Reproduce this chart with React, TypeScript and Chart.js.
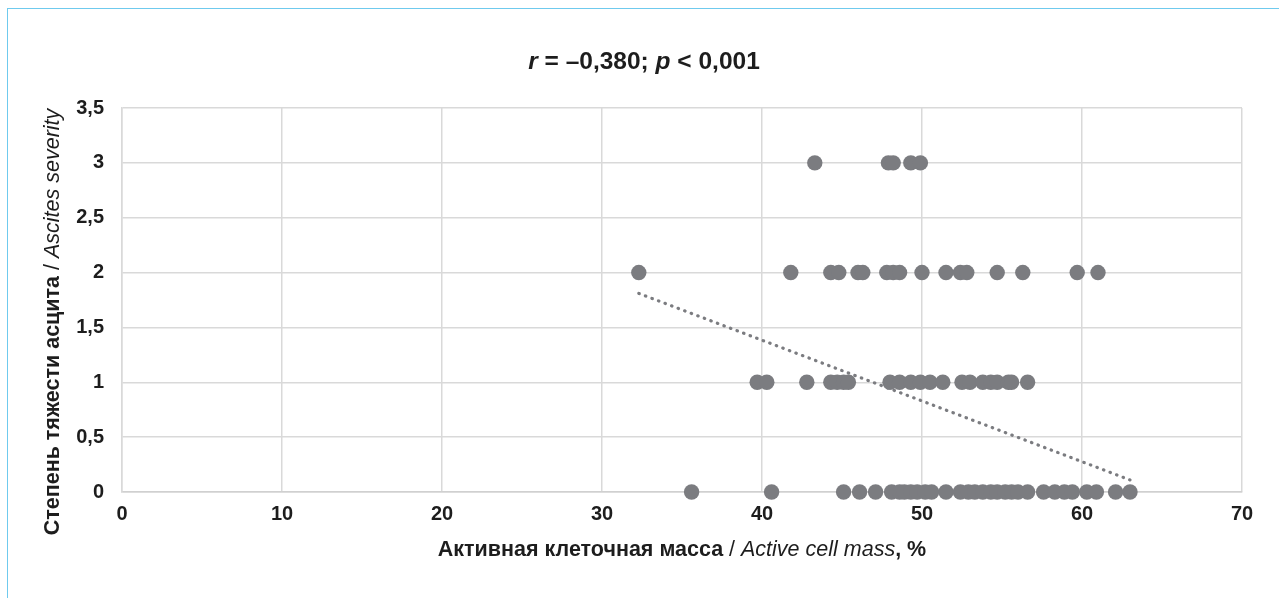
import React, { useEffect, useRef } from "react";
import { Chart, registerables } from "chart.js";

Chart.register(...registerables);

// Active cell mass (%) per ascites severity grade
const severity3 = [43.3, 47.9, 48.2, 49.3, 49.9];
const severity2 = [32.3, 41.8, 44.3, 44.8, 46.0, 46.3, 47.8, 48.2, 48.6, 50.0, 51.5, 52.4, 52.8, 54.7, 56.3, 59.7, 61.0];
const severity1 = [39.7, 40.3, 42.8, 44.3, 44.7, 45.1, 45.4, 48.0, 48.6, 49.3, 49.9, 50.5, 51.3, 52.5, 53.0, 53.8, 54.3, 54.7, 55.4, 55.6, 56.6];
const severity0 = [35.6, 40.6, 45.1, 46.1, 47.1, 48.1, 48.6, 48.9, 49.3, 49.7, 50.2, 50.6, 51.5, 52.4, 52.9, 53.3, 53.8, 54.3, 54.7, 55.2, 55.6, 56.0, 56.6, 57.6, 58.3, 58.9, 59.4, 60.3, 60.9, 62.1, 63.0];
const severityLevels = [3, 2, 1, 0];

// Linear trend endpoints
const trendX = [32.3, 63.0];
const trendY = [1.81, 0.11];

// Axis tick values
const xTicks = [0, 10, 20, 30, 40, 50, 60, 70];
const yTicks = [0, 0.5, 1, 1.5, 2, 2.5, 3, 3.5];

const FONT = "'Liberation Sans', Arial, sans-serif";
const INK = "#1d1d1d";
const DOT = "#7b7c80";

type Run = { t: string; bold: boolean; italic: boolean };

function drawRuns(ctx: CanvasRenderingContext2D, runs: Run[], size: number, cx: number, cy: number, angle: number) {
  const fontFor = (r: Run) => `${r.italic ? "italic " : ""}${r.bold ? "bold " : ""}${size}px ${FONT}`;
  let total = 0;
  const widths = runs.map((r) => {
    ctx.font = fontFor(r);
    const w = ctx.measureText(r.t).width;
    total += w;
    return w;
  });
  ctx.save();
  ctx.translate(cx, cy);
  ctx.rotate(angle);
  ctx.fillStyle = INK;
  ctx.textBaseline = "middle";
  ctx.textAlign = "left";
  let x = -total / 2;
  runs.forEach((r, i) => {
    ctx.font = fontFor(r);
    ctx.fillText(r.t, x, 0);
    x += widths[i];
  });
  ctx.restore();
}

const titleRuns: Run[] = [
  { t: "r", bold: true, italic: true },
  { t: " = –0,380; ", bold: true, italic: false },
  { t: "p", bold: true, italic: true },
  { t: " < 0,001", bold: true, italic: false },
];
const xTitleRuns: Run[] = [
  { t: "Активная клеточная масса ", bold: true, italic: false },
  { t: "/ ", bold: false, italic: false },
  { t: "Active cell mass", bold: false, italic: true },
  { t: ", %", bold: true, italic: false },
];
const yTitleRuns: Run[] = [
  { t: "Степень тяжести асцита ", bold: true, italic: false },
  { t: "/ ", bold: false, italic: false },
  { t: "Ascites severity", bold: false, italic: true },
];

const textPlugin = {
  id: "mixedTexts",
  afterDraw(chart: any) {
    const ctx = chart.ctx as CanvasRenderingContext2D;
    const area = chart.chartArea;
    const midX = (area.left + area.right) / 2;
    drawRuns(ctx, titleRuns, 24.5, 644, 62, 0);
    drawRuns(ctx, xTitleRuns, 21.5, midX, 550, 0);
    drawRuns(ctx, yTitleRuns, 21.5, 53, 322, -Math.PI / 2);
  },
};

export default function App() {
  const canvasRef = useRef<HTMLCanvasElement | null>(null);

  useEffect(() => {
    if (!canvasRef.current) return;
    const points = [severity3, severity2, severity1, severity0].flatMap((xs, i) =>
      xs.map((x) => ({ x, y: severityLevels[i] }))
    );
    const trend = trendX.map((x, i) => ({ x, y: trendY[i] }));

    const chart = new Chart(canvasRef.current, {
      type: "scatter",
      data: {
        datasets: [
          {
            label: "trend",
            type: "line",
            data: trend,
            borderColor: DOT,
            borderWidth: 3.2,
            borderDash: [0.5, 6.5],
            borderCapStyle: "round",
            pointRadius: 0,
            fill: false,
            clip: false,
            order: 1,
          } as any,
          {
            label: "points",
            data: points,
            backgroundColor: DOT,
            borderColor: DOT,
            borderWidth: 0,
            pointRadius: 7.7,
            pointHoverRadius: 7.7,
            clip: false,
            order: 2,
          } as any,
        ],
      },
      options: {
        animation: false,
        responsive: false,
        maintainAspectRatio: false,
        layout: { padding: { left: 0, top: 108, right: 37, bottom: 0 } },
        plugins: {
          legend: { display: false },
          title: { display: false },
          tooltip: { enabled: false },
        },
        scales: {
          x: {
            type: "linear",
            min: 0,
            max: 70,
            afterBuildTicks: (scale: any) => {
              scale.ticks = xTicks.map((v) => ({ value: v }));
            },
            afterFit: (scale: any) => {
              scale.height = 106;
            },
            grid: { color: "#d9d9d9", lineWidth: 1.5, drawTicks: false },
            border: { display: true, color: "#d0d0d0", width: 1.5 },
            ticks: {
              padding: 10,
              color: INK,
              font: { family: FONT, size: 20, weight: "bold" },
              callback: (v: any) => String(v),
            },
          },
          y: {
            type: "linear",
            min: 0,
            max: 3.5,
            afterBuildTicks: (scale: any) => {
              scale.ticks = yTicks.map((v) => ({ value: v }));
            },
            afterFit: (scale: any) => {
              scale.width = 122;
            },
            grid: { color: "#d9d9d9", lineWidth: 1.5, drawTicks: false },
            border: { display: true, color: "#d9d9d9", width: 1.5 },
            ticks: {
              padding: 18,
              color: INK,
              font: { family: FONT, size: 20, weight: "bold" },
              callback: (v: any) => String(v).replace(".", ","),
            },
          },
        },
      },
      plugins: [textPlugin],
    });
    return () => chart.destroy();
  }, []);

  return (
    <div style={{ position: "fixed", left: 0, top: 0, width: 1279, height: 598, background: "#ffffff", overflow: "hidden" }}>
      <div
        style={{
          position: "absolute",
          left: 7,
          top: 8,
          right: 0,
          bottom: 0,
          borderTop: "1.5px solid #6fcaee",
          borderLeft: "1.5px solid #6fcaee",
        }}
      />
      <canvas ref={canvasRef} width={1279} height={598} style={{ position: "absolute", left: 0, top: 0 }} />
    </div>
  );
}
